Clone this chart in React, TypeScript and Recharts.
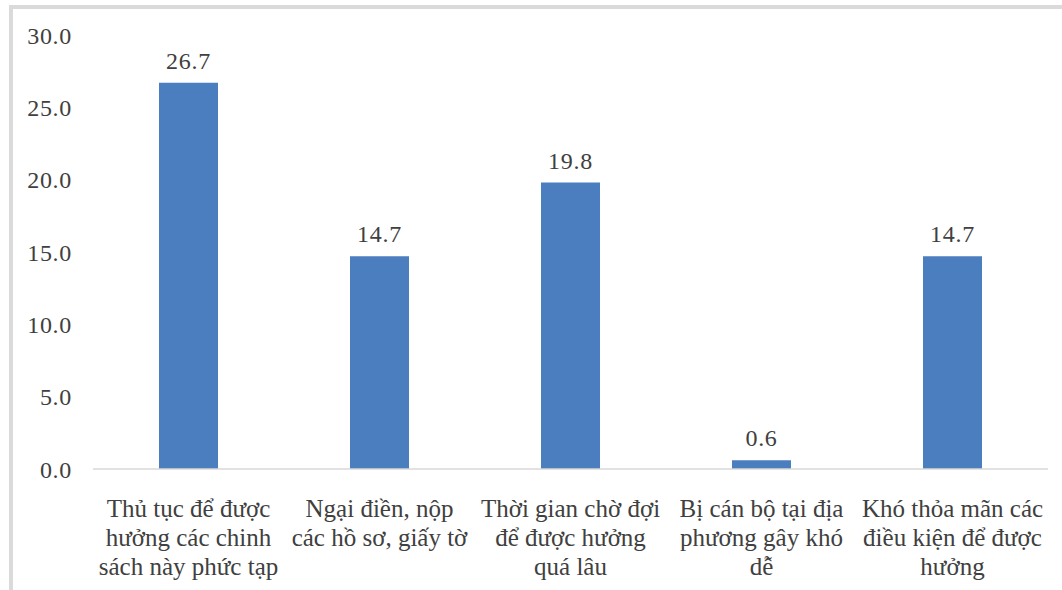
import { BarChart, Bar, XAxis, YAxis, LabelList } from 'recharts';

// Reasons respondents gave (one line per row of the axis label)
const categories = [
  'Thủ tục để được\nhưởng các chinh\nsách này phức tạp',
  'Ngại điền, nộp\ncác hồ sơ, giấy tờ',
  'Thời gian chờ đợi\nđể được hưởng\nquá lâu',
  'Bị cán bộ tại địa\nphương gây khó\ndễ',
  'Khó thỏa mãn các\nđiều kiện để được\nhưởng',
];
const values = [26.7, 14.7, 19.8, 0.6, 14.7];
const yTicks = [0, 5, 10, 15, 20, 25, 30];

const data = categories.map((name, i) => ({ name, value: values[i] }));

const FONT = '"Liberation Serif", "Times New Roman", serif';
const TEXT = '#404040';
const BAR = '#4a7ebf';
const SPACING = 0.7;

function CategoryTick(props: any) {
  const { x, y, payload } = props;
  const lines = String(payload.value).split('\n');
  return (
    <text x={x} y={y} textAnchor="middle" fill={TEXT} fontFamily={FONT} fontSize={25}>
      {lines.map((line, i) => (
        <tspan key={i} x={x} dy={i === 0 ? 40 : 29}>
          {line}
        </tspan>
      ))}
    </text>
  );
}

export default function App() {
  return (
    <div
      style={{
        position: 'fixed',
        left: 0,
        top: 0,
        width: 1062,
        height: 590,
        overflow: 'hidden',
        background: '#fff',
      }}
    >
      <div
        style={{
          position: 'absolute',
          left: 9,
          top: 5,
          width: 1200,
          height: 800,
          border: '4px solid #dadada',
        }}
      />
      <div style={{ position: 'absolute', left: 0, top: 0 }}>
        <BarChart
          width={1062}
          height={590}
          data={data}
          margin={{ top: 35, right: 14, bottom: 0, left: 0 }}
          barSize={59}
        >
          <XAxis
            dataKey="name"
            interval={0}
            tickLine={false}
            axisLine={{ stroke: '#d9d9d9', strokeWidth: 1.5 }}
            tick={<CategoryTick />}
            height={121}
          />
          <YAxis
            width={93}
            domain={[0, 30]}
            ticks={yTicks}
            interval={0}
            axisLine={false}
            tickLine={false}
            tickSize={0}
            tickMargin={21}
            tickFormatter={(v: number) => v.toFixed(1)}
            tick={{ fill: TEXT, fontFamily: FONT, fontSize: 24, letterSpacing: SPACING }}
          />
          <Bar dataKey="value" fill={BAR} isAnimationActive={false}>
            <LabelList
              dataKey="value"
              position="top"
              offset={14}
              fill={TEXT}
              fontFamily={FONT}
              fontSize={24}
              letterSpacing={SPACING}
              formatter={(v: any) => Number(v).toFixed(1)}
            />
          </Bar>
        </BarChart>
      </div>
    </div>
  );
}
